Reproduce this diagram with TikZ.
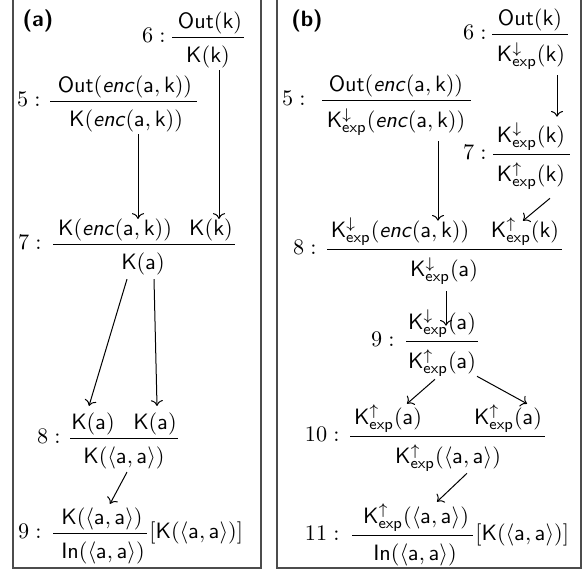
\documentclass[tikz,border=0pt]{standalone}
\usepackage{amsmath}
\usetikzlibrary{arrows.meta}
\newcommand{\encf}{\textsf{\textit{enc}}}
\newcommand{\Kdn}{\mathsf{K}^{\downarrow}_{\mathsf{exp}}}
\newcommand{\Kup}{\mathsf{K}^{\uparrow}_{\mathsf{exp}}}
\newcommand{\paa}{\langle\mathsf{a},\mathsf{a}\rangle}
\tikzset{
  >={To},
  frame/.style={draw=black!70, line width=0.7pt},
  prem/.style={inner sep=0pt, anchor=south},
  conc/.style={inner sep=0pt, anchor=north},
  bar/.style={line width=0.45pt},
  rno/.style={inner sep=0pt, anchor=base east},
  side/.style={inner sep=0pt, anchor=west},
  flow/.style={->, line width=0.45pt},
  tag/.style={font=\sffamily\bfseries, inner sep=0pt},
}
\begin{document}
\begin{tikzpicture}[x=0.45pt, y=0.45pt]
  \useasboundingbox (0,0) rectangle (588,-571);

  % The two panels.
  \draw[frame] (13,3) rectangle (261,-568);
  \draw[frame] (277,3) rectangle (581,-568);
  \node[tag] (ta) at (38,-21) {(a)};
  \node[tag] (tb) at (307,-21) {(b)};

  % ---- (a) ----
  \node[prem] (p6a) at (210,-34) {$\mathsf{Out(k)}$};
  \draw[bar] (172,-37) -- (244,-37);
  \node[conc] (c6a) at (208,-45) {$\mathsf{K(k)}$};
  \node[rno] (n6a) at (166,-42.5) {$6:$};

  \node[prem] (p5a) at (125,-98) {$\mathsf{Out}(\encf(\mathsf{a},\mathsf{k}))$};
  \draw[bar] (50,-101) -- (197,-101);
  \node[conc] (c5a) at (126,-109) {$\mathsf{K}(\encf(\mathsf{a},\mathsf{k}))$};
  \node[rno] (n5a) at (41,-106.5) {$5:$};

  \node[prem] (p7a) at (115,-241) {$\mathsf{K}(\encf(\mathsf{a},\mathsf{k}))$};
  \node[prem] (p7b) at (211,-241) {$\mathsf{K(k)}$};
  \draw[bar] (53,-244) -- (235,-244);
  \node[conc] (c7a) at (143,-252) {$\mathsf{K(a)}$};
  \node[rno] (n7a) at (42,-249.5) {$7:$};

  \node[prem] (p8a) at (93,-435) {$\mathsf{K(a)}$};
  \node[prem] (p8b) at (155,-435) {$\mathsf{K(a)}$};
  \draw[bar] (70,-438) -- (178,-438);
  \node[conc] (c8a) at (124,-446) {$\mathsf{K}(\paa)$};
  \node[rno] (n8a) at (61,-443.5) {$8:$};

  \node[prem] (p9a) at (102,-530) {$\mathsf{K}(\paa)$};
  \draw[bar] (53,-533) -- (147,-533);
  \node[conc] (c9a) at (103,-541) {$\mathsf{In}(\paa)$};
  \node[rno] (n9a) at (42,-538.5) {$9:$};
  \node[side] (s9a) at (149,-533) {$[\mathsf{K}(\paa)]$};

  \draw[flow] ([shift={(12,-2)}]c5a.south) -- ([shift={(23,-1)}]p7a.north);
  \draw[flow] ([shift={(11,-2)}]c6a.south) -- ([shift={(8,-1)}]p7b.north);
  \draw[flow] ([shift={(-16,-4)}]c7a.south) -- ([shift={(-4,6)}]p8a.north);
  \draw[flow] ([shift={(11,-4)}]c7a.south) -- ([shift={(2,6)}]p8b.north);
  \draw[flow] ([shift={(3,-3)}]c8a.south) -- ([shift={(8,3)}]p9a.north);

  % ---- (b) ----
  \node[prem] (p6b) at (530,-31) {$\mathsf{Out(k)}$};
  \draw[bar] (492,-34) -- (568,-34);
  \node[conc] (c6b) at (531,-42) {$\Kdn(\mathsf{k})$};
  \node[rno] (n6b) at (487,-39.5) {$6:$};

  \node[prem] (p5b) at (396,-97) {$\mathsf{Out}(\encf(\mathsf{a},\mathsf{k}))$};
  \draw[bar] (322,-100) -- (471,-100);
  \node[conc] (c5b) at (396,-108) {$\Kdn(\encf(\mathsf{a},\mathsf{k}))$};
  \node[rno] (n5b) at (306,-105.5) {$5:$};

  \node[prem] (p7c) at (531,-151) {$\Kdn(\mathsf{k})$};
  \draw[bar] (493,-154) -- (570,-154);
  \node[conc] (c7b) at (531,-162) {$\Kup(\mathsf{k})$};
  \node[rno] (n7b) at (487,-159.5) {$7:$};

  \node[prem] (p8c) at (400,-246) {$\Kdn(\encf(\mathsf{a},\mathsf{k}))$};
  \node[prem] (p8d) at (525,-246) {$\Kup(\mathsf{k})$};
  \draw[bar] (327,-249) -- (562,-249);
  \node[conc] (c8b) at (444,-257) {$\Kdn(\mathsf{a})$};
  \node[rno] (n8b) at (317,-254.5) {$8:$};

  \node[prem] (p9b) at (442,-338) {$\Kdn(\mathsf{a})$};
  \draw[bar] (406,-341) -- (478,-341);
  \node[conc] (c9b) at (442,-349) {$\Kup(\mathsf{a})$};
  \node[rno] (n9b) at (395,-346.5) {$9:$};

  \node[prem] (p10a) at (388,-433) {$\Kup(\mathsf{a})$};
  \node[prem] (p10b) at (508,-433) {$\Kup(\mathsf{a})$};
  \draw[bar] (350,-436) -- (545,-436);
  \node[conc] (c10b) at (448,-444) {$\Kup(\paa)$};
  \node[rno] (n10b) at (340,-441.5) {$10:$};

  \node[prem] (p11b) at (416,-532) {$\Kup(\paa)$};
  \draw[bar] (352,-535) -- (473,-535);
  \node[conc] (c11b) at (415,-543) {$\mathsf{In}(\paa)$};
  \node[rno] (n11b) at (340,-540.5) {$11:$};
  \node[side] (s11b) at (475,-535) {$[\mathsf{K}(\paa)]$};

  \draw[flow] ([shift={(26,-5)}]c6b.south) -- ([shift={(26,6)}]p7c.north);
  \draw[flow] ([shift={(42,-5)}]c5b.south) -- ([shift={(38,-3)}]p8c.north);
  \draw[flow] ([shift={(19,-8)}]c7b.south) -- ([shift={(-2,-3)}]p8d.north);
  \draw[flow] ([shift={(2,-6)}]c8b.south) -- ([shift={(4,-16)}]p9b.north);
  \draw[flow] ([shift={(-7,-2)}]c9b.south) -- ([shift={(19,1)}]p10a.north);
  \draw[flow] ([shift={(35,1)}]c9b.south) -- ([shift={(19,1)}]p10b.north);
  \draw[flow] ([shift={(19,-1)}]c10b.south) -- ([shift={(21,2)}]p11b.north);
\end{tikzpicture}
\end{document}
